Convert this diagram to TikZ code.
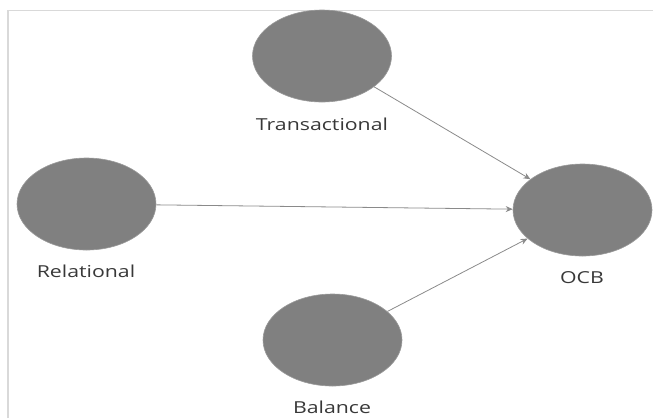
\documentclass[tikz,border=0pt]{standalone}
\usepackage{fontspec}
\setmainfont{Open Sans}
\usetikzlibrary{shapes.geometric,arrows.meta}
\definecolor{fillgray}{HTML}{808080}
\definecolor{edgegray}{HTML}{9A9A9A}
\definecolor{linegray}{HTML}{8A8A8A}
\definecolor{framegray}{HTML}{D9D9D9}
\definecolor{textgray}{HTML}{383838}
\newcommand{\widetext}[1]{\scalebox{1.29}[1]{#1}}
\begin{document}
\begin{tikzpicture}[x=1bp,y=-1bp,
  latent/.style={ellipse,draw=edgegray,fill=fillgray,line width=0.6bp,minimum width=139bp,minimum height=92bp,inner sep=0pt},
  lbl/.style={text=textgray,font=\fontsize{16.5bp}{18bp}\selectfont,inner sep=0pt,anchor=base},
  path/.style={draw=linegray,line width=0.8bp,-{Stealth[length=7bp,width=6bp]}},
  frame/.style={draw=framegray,line width=1.5bp}]
\useasboundingbox (0,0) rectangle (653,418);
\coordinate (fA) at (8,418);
\coordinate (fB) at (8,10.5);
\coordinate (fC) at (653,10.5);
\draw[frame] (fA) -- (fB) -- (fC);
\node[latent] (tr) at (322,56) {};
\node[latent] (re) at (86.5,204) {};
\node[latent] (ba) at (332.5,340) {};
\node[latent] (ocb) at (582.5,210) {};
\node[lbl] (trl) at (322,130) {\widetext{Transactional}};
\node[lbl] (rel) at (86,277) {\widetext{Relational}};
\node[lbl] (bal) at (332,413) {\widetext{Balance}};
\node[lbl] (ocbl) at (582,283) {\widetext{OCB}};
\draw[path] (tr) -- (ocb);
\draw[path] (re) -- (ocb);
\draw[path] (ba) -- (ocb);
\end{tikzpicture}
\end{document}
